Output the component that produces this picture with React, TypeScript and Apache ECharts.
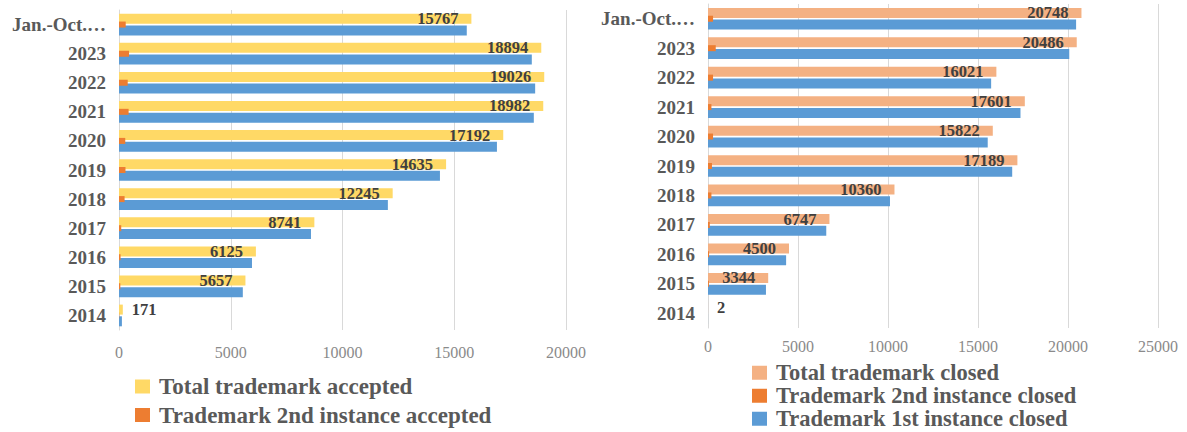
import React, { useEffect, useRef } from 'react';
import * as echarts from 'echarts';

const categories = ['2014', '2015', '2016', '2017', '2018', '2019', '2020', '2021', '2022', '2023', 'Jan.-Oct.…'];

const acceptedTotal = [171, 5657, 6125, 8741, 12245, 14635, 17192, 18982, 19026, 18894, 15767];
const acceptedFirst = [130, 5540, 5950, 8590, 12030, 14360, 16910, 18560, 18620, 18470, 15560];
const acceptedSecond = [10, 60, 70, 100, 250, 290, 280, 430, 390, 450, 300];

const closedTotal = [2, 3344, 4500, 6747, 10360, 17189, 15822, 17601, 16021, 20486, 20748];
const closedFirst = [2, 3220, 4340, 6570, 10110, 16900, 15540, 17360, 15730, 20070, 20450];
const closedSecond = [0, 50, 60, 100, 190, 220, 280, 190, 280, 430, 280];

const leftLegendNames = ['Total trademark accepted', 'Trademark 2nd instance accepted'];
const rightLegendNames = ['Total trademark closed', 'Trademark 2nd instance closed', 'Trademark 1st instance closed'];

const leftTicks = { min: 0, max: 20000, interval: 5000 };
const rightTicks = { min: 0, max: 25000, interval: 5000 };

const FONT = '"Liberation Serif", "Times New Roman", serif';
const YELLOW = '#FFD966';
const SALMON = '#F4B183';
const ORANGE = '#ED7D31';
const BLUE = '#5B9BD5';
const GRID = '#D9D9D9';

export default function App() {
  const ref = useRef<HTMLDivElement>(null);

  useEffect(() => {
    const chart = echarts.init(ref.current!, null, { renderer: 'svg' });

    const withSmallLabels = (arr: number[]) =>
      arr.map((v) => (v < 1000 ? { value: v, label: { position: 'right', distance: 9 } } : v));

    const valueLabel = {
      show: true,
      position: 'insideRight',
      distance: 13,
      fontFamily: FONT,
      fontWeight: 'bold',
      fontSize: 16.5,
      color: '#404040',
    };

    const catAxis = (gridIndex: number, shown: boolean) => ({
      type: 'category',
      gridIndex,
      data: categories,
      show: shown,
      axisLine: { show: true, lineStyle: { color: GRID } },
      axisTick: { show: false },
      axisLabel: {
        fontFamily: FONT,
        fontWeight: 'bold',
        fontSize: 19,
        color: '#595959',
        margin: 13,
      },
    });

    const valAxis = (gridIndex: number, ticks: any, margin: number) => ({
      type: 'value',
      gridIndex,
      ...ticks,
      axisLine: { show: false },
      axisTick: { show: false },
      splitLine: { show: true, lineStyle: { color: GRID } },
      axisLabel: {
        fontFamily: FONT,
        fontSize: 16,
        color: '#8a8a8a',
        margin,
        formatter: (v: number) => String(v),
      },
    });

    const legendItem = (name: string, left: number, top: number, fontSize: number) => ({
      data: [name],
      orient: 'vertical',
      left,
      top,
      padding: 0,
      itemWidth: 15,
      itemHeight: 14,
      icon: 'rect',
      textStyle: {
        fontFamily: FONT,
        fontWeight: 'bold',
        fontSize,
        color: '#595959',
        padding: [0, 0, 0, 4],
      },
    });

    chart.setOption({
      animation: false,
      grid: [
        { left: 119, right: 1187 - 566, top: 10, height: 320 },
        { left: 708, right: 1187 - 1158, top: 4, height: 324 },
      ],
      xAxis: [valAxis(0, leftTicks, 14), valAxis(1, rightTicks, 10)],
      yAxis: [catAxis(0, true), catAxis(0, false), catAxis(1, true), catAxis(1, false)],
      legend: [
        legendItem(leftLegendNames[0], 135, 375, 23),
        legendItem(leftLegendNames[1], 135, 403.5, 23),
        legendItem(rightLegendNames[0], 752, 361.25, 22.5),
        legendItem(rightLegendNames[1], 752, 384.25, 22.5),
        legendItem(rightLegendNames[2], 752, 407.25, 22.5),
      ],
      series: [
        {
          name: 'Total trademark accepted',
          type: 'bar',
          xAxisIndex: 0,
          yAxisIndex: 0,
          barWidth: 10,
          barGap: '17%',
          itemStyle: { color: YELLOW },
          label: valueLabel,
          data: withSmallLabels(acceptedTotal),
        },
        {
          name: 'Trademark 1st instance accepted',
          type: 'bar',
          xAxisIndex: 0,
          yAxisIndex: 0,
          barWidth: 10,
          barGap: '17%',
          itemStyle: { color: BLUE },
          data: acceptedFirst,
        },
        {
          name: 'Trademark 2nd instance accepted',
          type: 'bar',
          xAxisIndex: 0,
          yAxisIndex: 1,
          barWidth: 6,
          itemStyle: { color: ORANGE },
          data: acceptedSecond,
        },
        {
          name: 'Total trademark closed',
          type: 'bar',
          xAxisIndex: 1,
          yAxisIndex: 2,
          barWidth: 10,
          barGap: '17%',
          itemStyle: { color: SALMON },
          label: valueLabel,
          data: withSmallLabels(closedTotal),
        },
        {
          name: 'Trademark 1st instance closed',
          type: 'bar',
          xAxisIndex: 1,
          yAxisIndex: 2,
          barWidth: 10,
          barGap: '17%',
          itemStyle: { color: BLUE },
          data: closedFirst,
        },
        {
          name: 'Trademark 2nd instance closed',
          type: 'bar',
          xAxisIndex: 1,
          yAxisIndex: 3,
          barWidth: 6,
          itemStyle: { color: ORANGE },
          data: closedSecond,
        },
      ],
    });

    return () => chart.dispose();
  }, []);

  return (
    <div
      ref={ref}
      style={{ position: 'absolute', left: 0, top: 0, width: 1187, height: 432, background: '#fff' }}
    />
  );
}
